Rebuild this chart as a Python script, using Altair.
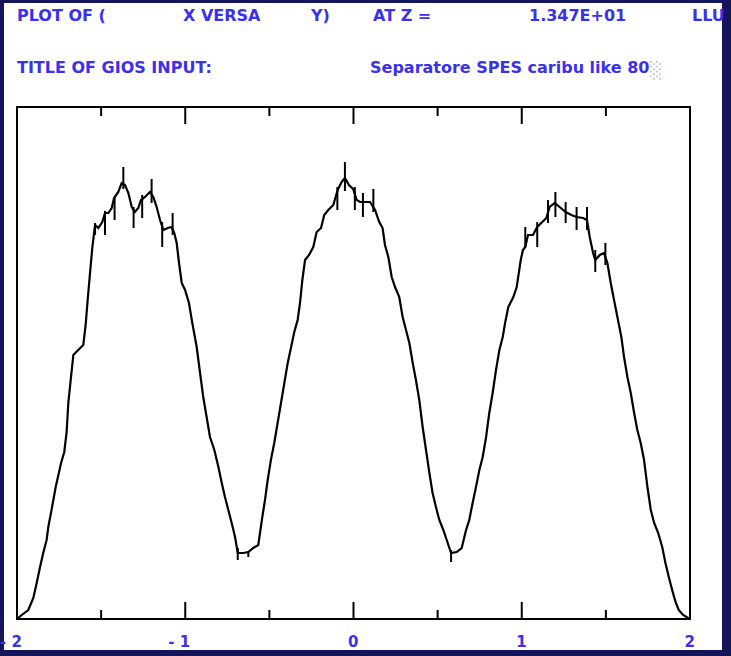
import altair as alt
import pandas as pd

# ---- data (y in arbitrary counts, 0..512 full frame) ----
x_vals = [-2.000, -1.972, -1.933, -1.903, -1.883, -1.863, -1.844, -1.824, -1.814, -1.798,
          -1.784, -1.770, -1.754, -1.738, -1.719, -1.705, -1.695, -1.679, -1.665, -1.636,
          -1.606, -1.592, -1.580, -1.566, -1.552, -1.536, -1.517, -1.493, -1.477, -1.457,
          -1.437, -1.423, -1.398, -1.378, -1.358, -1.338, -1.318, -1.299, -1.279, -1.263,
          -1.239, -1.210, -1.190, -1.170, -1.150, -1.130, -1.104, -1.081, -1.065, -1.051,
          -1.037, -1.021, -1.001, -0.978, -0.958, -0.932, -0.912, -0.893, -0.873, -0.853,
          -0.827, -0.803, -0.783, -0.764, -0.744, -0.724, -0.704, -0.688, -0.655, -0.625,
          -0.596, -0.566, -0.542, -0.526, -0.510, -0.491, -0.471, -0.451, -0.431, -0.411,
          -0.391, -0.372, -0.352, -0.332, -0.318, -0.304, -0.288, -0.264, -0.239, -0.219,
          -0.193, -0.174, -0.150, -0.120, -0.094, -0.071, -0.051, -0.027, -0.002, 0.019,
          0.039, 0.068, 0.098, 0.128, 0.153, 0.173, 0.187, 0.207, 0.227, 0.247,
          0.272, 0.292, 0.312, 0.332, 0.352, 0.371, 0.391, 0.411, 0.431, 0.451,
          0.470, 0.490, 0.510, 0.534, 0.554, 0.580, 0.613, 0.643, 0.669, 0.688,
          0.708, 0.728, 0.748, 0.768, 0.788, 0.807, 0.827, 0.847, 0.867, 0.887,
          0.901, 0.920, 0.950, 0.970, 0.994, 1.007, 1.021, 1.037, 1.067, 1.092,
          1.116, 1.146, 1.166, 1.196, 1.225, 1.261, 1.295, 1.326, 1.364, 1.388,
          1.404, 1.424, 1.437, 1.464, 1.489, 1.509, 1.529, 1.552, 1.572, 1.592,
          1.608, 1.628, 1.648, 1.668, 1.687, 1.707, 1.727, 1.747, 1.767, 1.787,
          1.811, 1.835, 1.854, 1.874, 1.894, 1.914, 1.933, 1.959, 1.989, 2.000]
y_vals = [0, 4, 9, 21, 36, 52, 66, 79, 92, 106,
          119, 132, 144, 156, 167, 187, 216, 242, 264, 269,
          274, 294, 319, 346, 372, 394, 391, 397, 406, 406,
          411, 421, 427, 436, 434, 426, 412, 407, 411, 419,
          422, 427, 422, 412, 399, 389, 391, 392, 386, 376,
          356, 336, 329, 316, 296, 272, 246, 222, 202, 182,
          169, 152, 136, 122, 109, 96, 82, 66, 66, 67,
          71, 74, 102, 119, 139, 159, 176, 196, 216, 236,
          256, 271, 287, 299, 316, 339, 359, 364, 372, 387,
          391, 404, 409, 414, 429, 437, 441, 434, 430, 419,
          417, 417, 417, 409, 397, 391, 374, 362, 342, 332,
          322, 302, 289, 276, 256, 239, 219, 192, 169, 146,
          126, 112, 99, 89, 79, 66, 67, 71, 89, 99,
          116, 132, 149, 162, 182, 206, 226, 249, 269, 282,
          296, 312, 322, 332, 359, 369, 372, 384, 384, 392,
          396, 401, 412, 416, 412, 407, 404, 402, 401, 399,
          382, 366, 359, 364, 366, 356, 336, 316, 299, 282,
          262, 242, 226, 206, 189, 176, 159, 132, 109, 96,
          86, 72, 56, 42, 29, 17, 9, 4, 1, 0]

# error bars visible near the peaks
bar_x = [-1.536, -1.477, -1.420, -1.368, -1.307, -1.256, -1.200, -1.137, -1.075,
         -0.688, -0.625, -0.096, -0.051, 0.008, 0.056, 0.118, 0.580,
         1.021, 1.092, 1.156, 1.200, 1.261, 1.326, 1.388, 1.437, 1.497]
bar_lo = [384, 384, 399, 430, 391, 401, 416, 372, 384,
          59, 62, 409, 428, 409, 402, 407, 57,
          372, 372, 396, 402, 396, 389, 389, 347, 354]
bar_hi = [396, 408, 422, 452, 412, 424, 440, 397, 406,
          71, 68, 432, 457, 432, 426, 430, 69,
          392, 397, 419, 427, 417, 412, 412, 369, 376]

major_ticks = [-2, -1, 0, 1, 2]
minor_ticks = [-1.5, -0.5, 0.5, 1.5]
tick_labels = ["- 2", "- 1", "0", "1", "2"]

header_texts = ["PLOT OF (", "X VERSA", "Y)", "AT Z =", "1.347E+01", "LLU",
                "TITLE OF GIOS INPUT:", "Separatore SPES caribu like 80"]
# layout (pixel offsets from the plot origin)
header_pos = [(0, -86), (166, -86), (294, -86), (356, -86), (512, -86), (675, -86),
              (0, -34), (353, -34)]

W, H = 673, 512
BLUE = "#3a30f0"

curve = pd.DataFrame({"x": x_vals, "y": y_vals})
bars = pd.DataFrame({"x": bar_x, "lo": bar_lo, "hi": bar_hi})
labels = pd.DataFrame({"t": major_ticks, "label": tick_labels})

xscale = alt.Scale(domain=[-2, 2], nice=False, zero=False)
yscale = alt.Scale(domain=[0, 512], nice=False, zero=True)

one = alt.Data(values=[{}])

bg = alt.Chart(one).mark_rect(color="white").encode(
    x=alt.value(-13), x2=alt.value(705), y=alt.value(-104), y2=alt.value(543)
)

line = alt.Chart(curve).mark_line(color="black", strokeWidth=2.2).encode(
    x=alt.X("x:Q", scale=xscale, axis=None),
    y=alt.Y("y:Q", scale=yscale, axis=None),
)

errs = alt.Chart(bars).mark_rule(color="black", strokeWidth=2).encode(
    x=alt.X("x:Q", scale=xscale, axis=None),
    y=alt.Y("lo:Q", scale=yscale, axis=None),
    y2="hi:Q",
)

def tick_layer(vals, y0, y1):
    return alt.Chart(pd.DataFrame({"t": vals})).mark_rule(color="black", strokeWidth=2).encode(
        x=alt.X("t:Q", scale=xscale, axis=None), y=alt.value(y0), y2=alt.value(y1)
    )

ticks = [
    tick_layer(major_ticks, H, H - 17), tick_layer(minor_ticks, H, H - 9),
    tick_layer(major_ticks, 0, 17), tick_layer(minor_ticks, 0, 9),
]

tick_text = alt.Chart(labels).mark_text(
    align="right", baseline="alphabetic", dx=5, font="DejaVu Sans", fontWeight="bold",
    fontSize=15, color=BLUE).encode(
    x=alt.X("t:Q", scale=xscale, axis=None), y=alt.value(H + 28), text="label:N")

frame = alt.Chart(one).mark_rect(fillOpacity=0, stroke="black", strokeWidth=2).encode(
    x=alt.value(0), x2=alt.value(W), y=alt.value(0), y2=alt.value(H)
)

texts = []
for t, (px, py) in zip(header_texts, header_pos):
    texts.append(alt.Chart(one).mark_text(
        text=t, align="left", baseline="alphabetic", font="DejaVu Sans",
        fontWeight="bold", fontSize=16, color=BLUE).encode(x=alt.value(px), y=alt.value(py)))

box = alt.Chart(one).mark_text(
    text="\u2591", align="left", baseline="alphabetic", font="DejaVu Sans",
    fontSize=16, color="#b8b8c8").encode(x=alt.value(633), y=alt.value(-31))

chart = alt.layer(bg, line, errs, *ticks, tick_text, frame, *texts, box).properties(
    width=W, height=H,
    autosize=alt.AutoSizeParams(type="none"),
    padding={"left": 17, "top": 107, "right": 41, "bottom": 37},
).configure(background="#15155c").configure_view(stroke=None)

chart.save("out.html", embed_options={"renderer": "svg", "actions": False})
